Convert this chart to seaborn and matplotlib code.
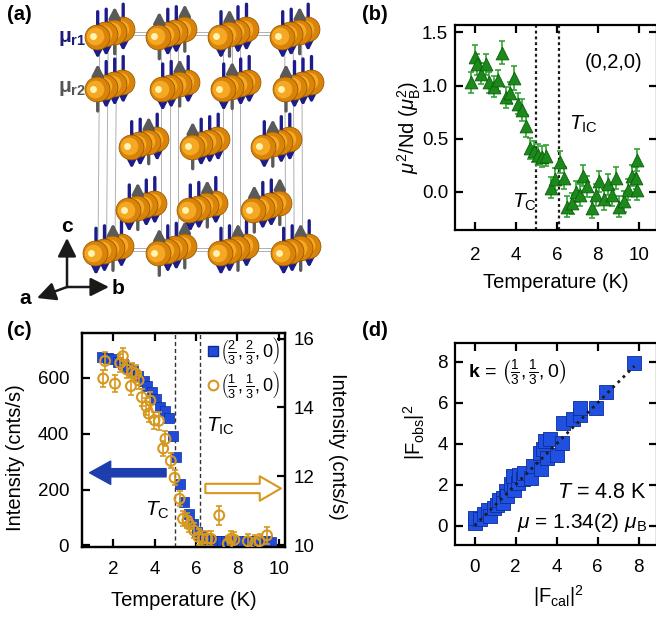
import numpy as np
import pandas as pd
import matplotlib
matplotlib.use('Agg')
import matplotlib.pyplot as plt
from matplotlib.lines import Line2D
import seaborn as sns

sns.set_theme(style='ticks')
plt.rcParams['font.family'] = ['Liberation Sans', 'DejaVu Sans']
plt.rcParams.update({
    'mathtext.fontset': 'custom',
    'mathtext.rm': 'Liberation Sans',
    'mathtext.it': 'Liberation Sans:italic',
    'mathtext.bf': 'Liberation Sans:bold',
    'axes.linewidth': 1.6, 'axes.edgecolor': 'black',
    'xtick.color': 'black', 'ytick.color': 'black',
    'xtick.direction': 'in', 'ytick.direction': 'in',
    'xtick.major.size': 6, 'ytick.major.size': 6,
    'xtick.major.width': 1.6, 'ytick.major.width': 1.6,
    'xtick.labelsize': 13.5, 'ytick.labelsize': 13.5,
    'axes.labelsize': 14.5, 'axes.labelcolor': 'black', 'text.color': 'black',
})

# ---- (a) crystal sketch: Nd chains (front sphere of each chain, pixel units)
row_y = [36.7, 89, 146.7, 210, 253.3]
row_x = [[96.7, 158.3, 220, 281.7],
         [96.7, 161.7, 222.7, 285],
         [130.7, 191.7, 263.3],
         [128.3, 189.3, 253.3],
         [95, 158.3, 220, 282.7]]
# moment direction of the 4 spheres along each chain (-1 down, +1 up)
spins = [[[-1, -1, 1, -1], [1, -1, -1, 1], [-1, 1, -1, -1], [-1, -1, 1, -1]],
         [[1, -1, -1, -1], [-1, -1, 1, -1], [-1, 1, -1, -1], [1, -1, -1, -1]],
         [[-1, -1, 1, -1], [1, -1, -1, -1], [-1, 1, -1, -1]],
         [[-1, 1, -1, -1], [-1, -1, 1, -1], [1, -1, -1, 1]],
         [[-1, -1, 1, -1], [1, -1, -1, 1], [-1, -1, 1, -1], [-1, -1, 1, -1]]]

# ---- (b) mu^2/Nd vs T at (0,2,0)
T_b = [1.76, 1.97, 2.08, 2.29, 2.53, 2.69, 2.91, 3.09, 3.28, 3.49, 3.68, 3.89,
       4.08, 4.29, 4.46, 4.66, 4.86, 5.05, 5.27, 5.48, 5.71, 5.92, 6.13, 6.32,
       6.51, 6.73, 6.92, 7.13, 7.29, 7.49, 7.70, 7.89, 8.07, 8.30, 8.51, 8.70,
       8.88, 9.04, 9.28, 9.48, 9.67, 9.86, 9.90, 9.92]
mu_b = [1.03, 1.27, 1.20, 1.11, 1.20, 1.03, 0.99, 1.05, 1.31, 0.89, 0.93, 1.07,
        0.83, 0.77, 0.62, 0.41, 0.38, 0.35, 0.33, 0.34, 0.04, 0.12, 0.28, 0.13,
        -0.14, -0.11, 0.00, -0.03, 0.15, 0.05, -0.15, -0.03, 0.10, -0.07, 0.07, -0.03,
        0.13, -0.14, -0.09, 0.02, 0.15, 0.13, 0.02, 0.30]
err_b = [0.10, 0.11, 0.10, 0.10, 0.10, 0.10, 0.10, 0.10, 0.11, 0.10, 0.10, 0.11,
         0.10, 0.10, 0.10, 0.10, 0.10, 0.10, 0.10, 0.10, 0.10, 0.10, 0.10, 0.10,
         0.10, 0.10, 0.10, 0.10, 0.10, 0.10, 0.10, 0.10, 0.10, 0.10, 0.10, 0.10,
         0.10, 0.10, 0.10, 0.10, 0.10, 0.10, 0.10, 0.10]
Tc_b, Tic_b = 4.95, 6.1

# ---- (c) peak intensities vs T
T_sq = [1.47, 1.76, 2.0, 2.24, 2.49, 2.73, 2.97, 3.21, 3.46, 3.65, 3.86, 4.07,
        4.27, 4.48, 4.67, 4.88, 5.04, 5.24, 5.43, 5.64, 5.85, 6.05, 6.26,
        6.45, 6.65, 6.85, 7.05, 7.25, 7.45, 7.65, 7.85, 8.05, 8.25, 8.45, 8.65,
        8.85, 9.05, 9.25, 9.45, 9.6]
I_sq = [675, 672, 669, 658, 649, 637, 625, 607, 589, 571, 551, 524,
        496, 480, 458, 393, 315, 220, 155, 113, 77, 48, 32,
        20, 18, 16, 15, 15, 14, 14, 15, 13, 14, 15, 13, 14, 14, 13, 14, 13]
T_ci = [1.51, 1.60, 2.08, 2.33, 2.46, 2.65, 2.85, 2.92, 3.10, 3.22, 3.38, 3.60,
        3.71, 3.79, 3.99, 4.20, 4.41, 4.52, 4.78, 4.96, 5.20, 5.37, 5.58, 5.68,
        5.90, 6.12, 6.31, 6.55, 6.72, 7.12, 7.53, 7.69, 7.85, 8.50, 8.86, 9.07, 9.43]
I_ci = [14.84, 15.35, 14.69, 15.29, 15.49, 15.10, 14.62, 15.03, 14.98, 14.79, 14.30, 14.03,
        13.82, 14.20, 13.63, 13.61, 12.81, 13.09, 12.45, 11.96, 11.35, 10.77, 10.72, 10.60,
        10.43, 10.24, 10.19, 10.20, 10.19, 10.87, 10.05, 10.19, 10.16, 10.12, 10.07, 10.12, 10.29]
err_ci = [0.25, 0.25, 0.25, 0.25, 0.25, 0.25, 0.25, 0.25, 0.25, 0.25, 0.25, 0.25,
          0.25, 0.25, 0.25, 0.25, 0.22, 0.22, 0.22, 0.22, 0.22, 0.22, 0.22, 0.22,
          0.22, 0.22, 0.22, 0.22, 0.22, 0.28, 0.22, 0.22, 0.22, 0.22, 0.22, 0.22, 0.25]
Tc_c, Tic_c = 5.0, 6.2

# ---- (d) |F_obs|^2 vs |F_cal|^2
F_cal = [0.0, 0.0, 0.28, 0.45, 0.66, 0.73, 0.94, 1.11, 1.19, 1.36, 1.39, 1.52,
         1.60, 1.77, 1.85, 1.93, 2.10, 2.18, 2.35, 2.43, 2.73, 2.84, 3.26, 3.17,
         3.34, 3.42, 3.67, 3.54, 4.00, 4.25, 4.33, 4.79, 5.12, 5.16, 5.90, 6.40, 7.80]
F_obs = [0.13, 0.37, 0.33, 0.59, 0.78, 0.46, 0.87, 1.03, 1.27, 1.36, 1.11, 1.68,
         1.44, 2.01, 2.42, 1.76, 2.09, 2.45, 2.29, 2.58, 2.33, 2.91, 2.78, 3.56,
         3.72, 4.13, 4.24, 3.31, 3.43, 4.05, 5.03, 5.19, 5.39, 5.76, 5.76, 6.53, 7.93]

W, H = 656, 618


def box(l, t, r, b):
    return [l / W, 1 - b / H, (r - l) / W, (b - t) / H]


fig = plt.figure(figsize=(W / 100, H / 100), dpi=100)

# ================= (a)
axa = fig.add_axes(box(0, 0, 400, 310))
axa.set_xlim(0, 400)
axa.set_ylim(310, 0)
axa.axis('off')
dx, dy = 8.5, -2.5
for xt, xb in zip(row_x[0], row_x[-1]):
    for k in range(3):
        axa.plot([xt + dx * k + 3, xb + dx * k + 3], [row_y[0] + dy * k, row_y[-1] + dy * k],
                 color='#b0b0b0', lw=0.7, zorder=1)
for y0 in (row_y[0], row_y[-1]):
    for off in (-5, -2):
        axa.plot([row_x[0][0], row_x[0][-1] + 3 * dx], [y0 + off, y0 + off],
                 color='#b0b0b0', lw=0.7, zorder=1)

for k in range(3, -1, -1):
    zb = 10 + (3 - k) * 4
    xs, ys = [], []
    for r, (y0, xr) in enumerate(zip(row_y, row_x)):
        for c, x0 in enumerate(xr):
            sx, sy = x0 + dx * k, y0 + dy * k
            xs.append(sx)
            ys.append(sy)
            if spins[r][c][k] < 0:
                tail, head, col = sy - 25, sy + 22, '#1c1c8a'
            else:
                tail, head, col = sy + 22, sy - 25, '#5a5a5a'
            axa.annotate('', xy=(sx + 1, head), xytext=(sx + 1, tail),
                         arrowprops=dict(arrowstyle='-|>,head_length=0.55,head_width=0.28',
                                         lw=2.4, color=col, shrinkA=0, shrinkB=0,
                                         mutation_scale=12),
                         zorder=zb - 0.5)
    xs, ys = np.array(xs), np.array(ys)
    axa.scatter(xs, ys, s=320, color='#d98408', edgecolor='#9a5a00', lw=0.6, zorder=zb)
    axa.scatter(xs - 2, ys - 0.5, s=160, color='#f4a824', lw=0, zorder=zb + 1)
    axa.scatter(xs - 4, ys - 0.5, s=25, color='#fff3b0', lw=0, zorder=zb + 2)

axa.text(86, 38, r'$\mathbf{μ}_{\mathbf{r1}}$', color='#1c1c7a', fontsize=15,
         ha='right', va='center')
axa.text(86, 89, r'$\mathbf{μ}_{\mathbf{r2}}$', color='#555555', fontsize=15,
         ha='right', va='center')
ox, oy = 67, 287
for (ex, ey), lab, (lx, ly) in [((67, 238), 'c', (67, 227)),
                                ((109, 287), 'b', (118, 288)),
                                ((37, 298), 'a', (25, 298))]:
    axa.annotate('', xy=(ex, ey), xytext=(ox, oy),
                 arrowprops=dict(arrowstyle='-|>,head_length=0.7,head_width=0.35',
                                 lw=1.8, color='k', shrinkA=0, shrinkB=0, mutation_scale=16))
    axa.text(lx, ly, lab, fontsize=15, fontweight='bold', ha='center', va='center')

# ================= (b)
axb = fig.add_axes(box(455, 25, 657, 230))
axb.errorbar(T_b, mu_b, yerr=err_b, fmt='none', ecolor='#33a333', elinewidth=1.2,
             capsize=2.5, capthick=1.2, zorder=2)
sns.scatterplot(x=T_b, y=mu_b, marker='^', s=85, color='#1b8a1b', edgecolor='#0d5e0d',
                linewidth=0.6, ax=axb, zorder=3)
for t in (Tc_b, Tic_b):
    axb.axvline(t, color='k', ls=(0, (1.3, 1.3)), lw=1.6, zorder=1)
axb.set_xlim(1.0, 10.9)
axb.set_ylim(-0.36, 1.57)
axb.set_xticks([2, 4, 6, 8, 10])
axb.set_yticks([0, 0.5, 1.0, 1.5])
axb.set_yticklabels(['0.0', '0.5', '1.0', '1.5'])
axb.tick_params(top=True, right=True)
axb.tick_params(axis='y', pad=5)
axb.tick_params(axis='x', pad=12)
axb.set_xlabel('Temperature (K)', va='center')
axb.xaxis.set_label_coords(0.5, -0.255)
axb.set_ylabel(r'$\mu^2$/Nd ($\mu_\mathrm{B}^2$)', va='center')
axb.yaxis.set_label_coords(-0.228, 0.5)
axb.text(10.2, 1.22, '(0,2,0)', fontsize=14.5, ha='right', va='center')
axb.text(6.6, 0.63, r'$T_\mathrm{IC}$', fontsize=15, ha='left', va='center')
axb.text(3.8, -0.10, r'$T_\mathrm{C}$', fontsize=15, ha='left', va='center')

# ================= (c)
blue = '#1f4bd8'
orange = '#d6981e'
axc = fig.add_axes(box(81.7, 332.7, 285, 546.7))
axc2 = axc.twinx()
sns.scatterplot(x=T_sq, y=I_sq, marker='s', s=60, color=blue, edgecolor='#0c2c9a',
                linewidth=0.5, ax=axc, zorder=3)
axc2.errorbar(T_ci, I_ci, yerr=err_ci, fmt='none', ecolor=orange, elinewidth=1.2,
              capsize=2.5, capthick=1.2, zorder=2)
sns.scatterplot(x=T_ci, y=I_ci, marker='o', s=50, facecolor='none', edgecolor=orange,
                linewidth=1.5, ax=axc2, zorder=3)
for t in (Tc_c, Tic_c):
    axc.axvline(t, color='#333333', ls=(0, (3, 2)), lw=1.0, zorder=1)
axc.set_xlim(0.47, 10.3)
axc.set_ylim(-5, 762)
axc2.set_ylim(9.96, 16.17)
axc.set_xticks([2, 4, 6, 8, 10])
axc.set_yticks([0, 200, 400, 600])
axc2.set_yticks([10, 12, 14, 16])
axc.tick_params(top=True, right=False)
axc.tick_params(axis='y', pad=9)
axc.tick_params(axis='x', pad=10)
axc2.tick_params(axis='y', pad=6)
axc.set_xlabel('Temperature (K)', va='center')
axc.xaxis.set_label_coords(0.5, -0.25)
axc.set_ylabel('Intensity (cnts/s)', va='center')
axc.yaxis.set_label_coords(-0.325, 0.414)
axc2.set_ylabel('Intensity (cnts/s)', rotation=270, va='center')
axc2.yaxis.set_label_coords(1.26, 0.467)
axc.annotate('', xy=(0.85, 260), xytext=(4.55, 260),
             arrowprops=dict(arrowstyle='simple,head_length=0.95,head_width=1.05,tail_width=0.37',
                             mutation_scale=16, fc='#1d3fae', ec='#1d3fae', shrinkA=0, shrinkB=0))
axc2.annotate('', xy=(10.1, 11.65), xytext=(6.45, 11.65),
              arrowprops=dict(arrowstyle='simple,head_length=0.95,head_width=1.1,tail_width=0.42',
                              mutation_scale=16, fc='white', ec=orange, lw=1.5,
                              shrinkA=0, shrinkB=0))
axc.text(6.5, 426, r'$T_\mathrm{IC}$', fontsize=15, ha='left', va='center')
axc.text(3.55, 127, r'$T_\mathrm{C}$', fontsize=15, ha='left', va='center')
handles = [Line2D([], [], marker='s', ls='none', ms=7, mfc=blue, mec='#0c2c9a'),
           Line2D([], [], marker='o', ls='none', ms=7, mfc='none', mec=orange, mew=1.5)]
labels = [r'$\left(\frac{2}{3},\frac{2}{3},0\right)$', r'$\left(\frac{1}{3},\frac{1}{3},0\right)$']
axc2.legend(handles, labels, loc='upper left', bbox_to_anchor=(0.555, 1.05), frameon=False,
            fontsize=13, handlelength=0.6, handletextpad=0.1, labelspacing=0.2,
            borderpad=0.2)

# ================= (d)
axd = fig.add_axes(box(455, 342.5, 657, 545))
df_d = pd.DataFrame({'cal': F_cal, 'obs': F_obs})
axd.plot([0, 7.8], [0, 7.8], color='k', ls=(0, (1, 1.6)), lw=2, zorder=4)
sns.scatterplot(data=df_d, x='cal', y='obs', marker='s', s=95, color='#1f50e0',
                edgecolor='#0c2c9a', linewidth=0.6, ax=axd, zorder=3)
axd.set_xlim(-0.96, 8.9)
axd.set_ylim(-0.95, 8.95)
axd.set_xticks([0, 2, 4, 6, 8])
axd.set_yticks([0, 2, 4, 6, 8])
axd.tick_params(top=True, right=True)
axd.tick_params(axis='y', pad=5)
axd.tick_params(axis='x', pad=10)
axd.set_xlabel(r'$|\mathrm{F}_\mathrm{cal}|^2$', va='center')
axd.xaxis.set_label_coords(0.51, -0.25)
axd.set_ylabel(r'$|\mathrm{F}_\mathrm{obs}|^2$', va='center')
axd.yaxis.set_label_coords(-0.205, 0.555)
axd.text(-0.33, 7.45, r'$\mathbf{k}$ = $\left(\frac{1}{3},\frac{1}{3},0\right)$',
         fontsize=14, ha='left', va='center')
axd.text(8.4, 1.62, r'$T$ = 4.8 K', fontsize=15.5, ha='right', va='center')
axd.text(8.4, 0.15, r'$\mu$ = 1.34(2) $\mu_\mathrm{B}$', fontsize=15, ha='right', va='center')

# panel letters
for lab, x, y in [('(a)', 7, 15), ('(b)', 362, 15), ('(c)', 7, 330), ('(d)', 362, 330)]:
    fig.text(x / W, 1 - y / H, lab, fontsize=14.5, fontweight='bold', ha='left', va='center')

fig.savefig('out.png', dpi=100)
